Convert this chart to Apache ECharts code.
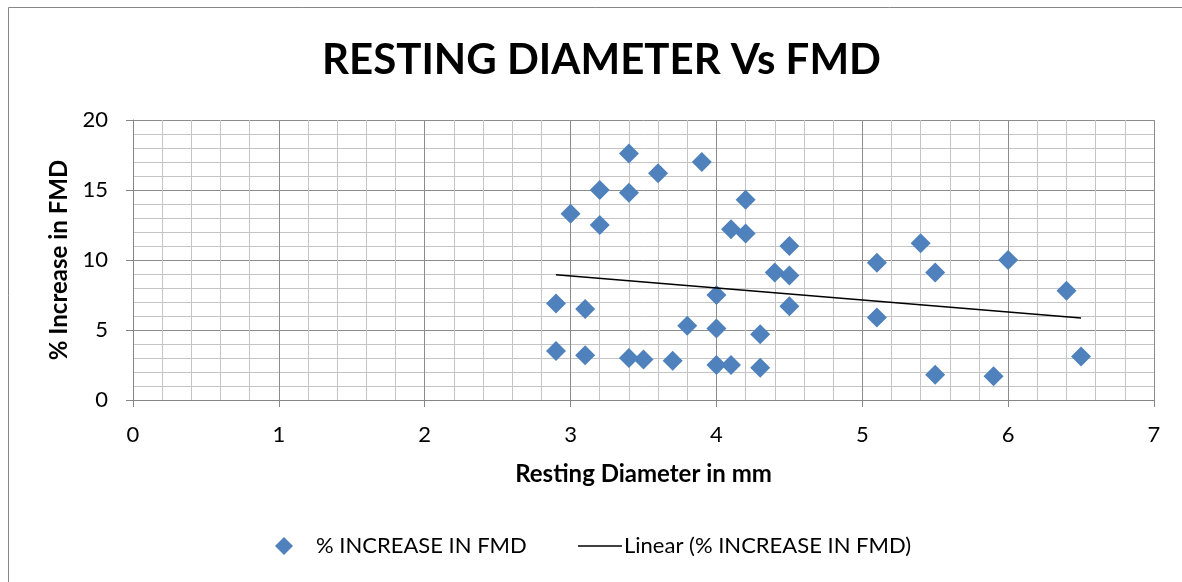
<!DOCTYPE html>
<html>
<head>
<meta charset="utf-8">
<title>RESTING DIAMETER Vs FMD</title>
<script src="https://cdn.jsdelivr.net/npm/echarts@6/dist/echarts.min.js"></script>
<style>
  html, body { margin: 0; padding: 0; background: #ffffff; }
  #chart { width: 1182px; height: 582px; }
</style>
</head>
<body>
<div id="chart"></div>
<script>
// Resting diameter (mm) and % increase in FMD for each subject
const restingDiameter = [
  3.4, 3.9, 3.6, 3.2, 3.4, 4.2, 3.0, 3.2, 4.1, 4.2,
  4.5, 4.4, 4.5, 4.0, 4.5, 2.9, 3.1, 3.8, 4.0, 4.3,
  2.9, 3.1, 3.4, 3.5, 3.7, 4.0, 4.1, 4.3,
  5.1, 5.4, 5.5, 6.0, 6.4, 5.1, 6.5, 5.5, 5.9
];
const fmdIncrease = [
  17.6, 17.0, 16.2, 15.0, 14.8, 14.3, 13.3, 12.5, 12.2, 11.9,
  11.0, 9.1, 8.9, 7.5, 6.7, 6.9, 6.5, 5.3, 5.1, 4.7,
  3.5, 3.2, 3.0, 2.9, 2.8, 2.5, 2.5, 2.3,
  9.8, 11.2, 9.1, 10.0, 7.8, 5.9, 3.1, 1.8, 1.7
];

// Linear trend line: its end values at the smallest and largest diameter
const trendX = [2.9, 6.5];
const trendY = [8.95, 5.86];

const xTicks = [0, 1, 2, 3, 4, 5, 6, 7];
const yTicks = [0, 5, 10, 15, 20];

const seriesName = '% INCREASE IN FMD';
const trendName = 'Linear (% INCREASE IN FMD)';

const points = restingDiameter.map((x, i) => [x, fmdIncrease[i]]);
const trendPoints = trendX.map((x, i) => [x, trendY[i]]);

const FONT = 'Lato, "Open Sans", sans-serif';
const AXIS_GREY = '#868686';

const chart = echarts.init(document.getElementById('chart'), null, { renderer: 'canvas' });

chart.setOption({
  animation: false,
  backgroundColor: '#ffffff',
  textStyle: { fontFamily: FONT },
  graphic: [{
    type: 'rect',
    shape: { x: 8.5, y: 7.5, width: 1300, height: 700 },
    style: { fill: 'none', stroke: AXIS_GREY, lineWidth: 1 },
    silent: true,
    z: -10
  }],
  title: {
    text: 'RESTING DIAMETER Vs FMD',
    left: 317,
    top: 34,
    textStyle: { fontFamily: FONT, fontSize: 42, fontWeight: 'bold', color: '#000000' }
  },
  grid: { left: 133, right: 28, top: 120, bottom: 182, containLabel: false },
  legend: [{
    data: [{ name: seriesName, icon: 'diamond' }],
    left: 275,
    top: 535,
    padding: 0,
    itemWidth: 18,
    itemHeight: 18,
    textStyle: { fontFamily: FONT, fontSize: 22, color: '#000000', padding: [0, 0, 0, 18] }
  }, {
    data: [{ name: trendName, icon: 'rect', itemStyle: { color: '#000000' } }],
    left: 578,
    top: 535,
    padding: 0,
    itemWidth: 44,
    itemHeight: 1.5,
    textStyle: { fontFamily: FONT, fontSize: 22, color: '#000000', padding: [0, 0, 0, -3] }
  }],
  xAxis: {
    type: 'value',
    min: xTicks[0],
    max: xTicks[xTicks.length - 1],
    interval: 1,
    name: 'Resting Diameter in mm',
    nameLocation: 'middle',
    nameGap: 62,
    nameTextStyle: { fontFamily: FONT, fontSize: 24, fontWeight: 'bold', color: '#000000' },
    axisLine: { show: true, onZero: false, lineStyle: { color: AXIS_GREY, width: 1 } },
    axisTick: { show: true, length: 7, lineStyle: { color: AXIS_GREY } },
    axisLabel: { fontFamily: FONT, fontSize: 22, color: '#000000', margin: 24 },
    splitLine: { show: true, lineStyle: { color: '#8c8c8c', width: 1 } },
    minorTick: { show: false, splitNumber: 5 },
    minorSplitLine: { show: true, lineStyle: { color: '#c4c4c4', width: 1 } }
  },
  yAxis: {
    type: 'value',
    min: yTicks[0],
    max: yTicks[yTicks.length - 1],
    interval: 5,
    name: '% Increase in FMD',
    nameLocation: 'middle',
    nameGap: 59,
    nameTextStyle: { fontFamily: FONT, fontSize: 24, fontWeight: 'bold', color: '#000000' },
    axisLine: { show: true, onZero: false, lineStyle: { color: AXIS_GREY, width: 1 } },
    axisTick: { show: true, length: 7, lineStyle: { color: AXIS_GREY } },
    axisLabel: { fontFamily: FONT, fontSize: 22, color: '#000000', margin: 25 },
    splitLine: { show: true, lineStyle: { color: '#8c8c8c', width: 1 } },
    minorTick: { show: false, splitNumber: 5 },
    minorSplitLine: { show: true, lineStyle: { color: '#c4c4c4', width: 1 } }
  },
  series: [{
    name: seriesName,
    type: 'scatter',
    data: points,
    symbol: 'diamond',
    symbolSize: 20,
    itemStyle: { color: '#4F81BD', opacity: 1 },
    z: 3
  }, {
    name: trendName,
    type: 'line',
    data: trendPoints,
    showSymbol: false,
    symbol: 'none',
    lineStyle: { color: '#000000', width: 1.5 },
    itemStyle: { color: '#000000' },
    z: 4
  }]
});
</script>
</body>
</html>
